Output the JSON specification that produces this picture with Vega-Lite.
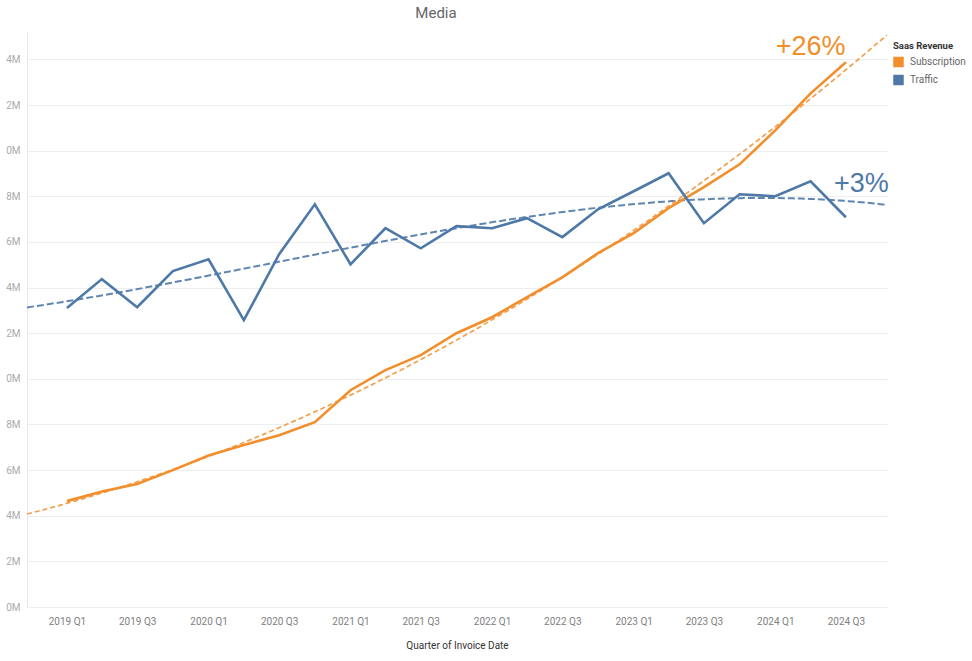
{
  "$schema": "https://vega.github.io/schema/vega-lite/v6.json",
  "width": 860,
  "height": 575,
  "autosize": {"type": "none"},
  "padding": {"left": 27, "top": 32, "right": 85, "bottom": 54},
  "background": "white",
  "config": {"view": {"stroke": null}, "font": "Roboto"},
  "title": {"text": "Media", "fontSize": 15, "font": "Roboto", "fontWeight": "normal", "color": "#666666", "anchor": "middle", "dx": -21, "offset": 11},
  "datasets": {
    "rev": [
      {"q": "2019-01-01", "series": "Subscription", "value": 4640000},
      {"q": "2019-04-01", "series": "Subscription", "value": 5060000},
      {"q": "2019-07-01", "series": "Subscription", "value": 5390000},
      {"q": "2019-10-01", "series": "Subscription", "value": 6000000},
      {"q": "2020-01-01", "series": "Subscription", "value": 6640000},
      {"q": "2020-04-01", "series": "Subscription", "value": 7100000},
      {"q": "2020-07-01", "series": "Subscription", "value": 7530000},
      {"q": "2020-10-01", "series": "Subscription", "value": 8100000},
      {"q": "2021-01-01", "series": "Subscription", "value": 9500000},
      {"q": "2021-04-01", "series": "Subscription", "value": 10380000},
      {"q": "2021-07-01", "series": "Subscription", "value": 11040000},
      {"q": "2021-10-01", "series": "Subscription", "value": 12000000},
      {"q": "2022-01-01", "series": "Subscription", "value": 12700000},
      {"q": "2022-04-01", "series": "Subscription", "value": 13580000},
      {"q": "2022-07-01", "series": "Subscription", "value": 14450000},
      {"q": "2022-10-01", "series": "Subscription", "value": 15510000},
      {"q": "2023-01-01", "series": "Subscription", "value": 16380000},
      {"q": "2023-04-01", "series": "Subscription", "value": 17480000},
      {"q": "2023-07-01", "series": "Subscription", "value": 18400000},
      {"q": "2023-10-01", "series": "Subscription", "value": 19400000},
      {"q": "2024-01-01", "series": "Subscription", "value": 20890000},
      {"q": "2024-04-01", "series": "Subscription", "value": 22510000},
      {"q": "2024-07-01", "series": "Subscription", "value": 23870000},
      {"q": "2019-01-01", "series": "Traffic", "value": 13100000},
      {"q": "2019-04-01", "series": "Traffic", "value": 14370000},
      {"q": "2019-07-01", "series": "Traffic", "value": 13140000},
      {"q": "2019-10-01", "series": "Traffic", "value": 14720000},
      {"q": "2020-01-01", "series": "Traffic", "value": 15240000},
      {"q": "2020-04-01", "series": "Traffic", "value": 12570000},
      {"q": "2020-07-01", "series": "Traffic", "value": 15460000},
      {"q": "2020-10-01", "series": "Traffic", "value": 17650000},
      {"q": "2021-01-01", "series": "Traffic", "value": 15020000},
      {"q": "2021-04-01", "series": "Traffic", "value": 16600000},
      {"q": "2021-07-01", "series": "Traffic", "value": 15720000},
      {"q": "2021-10-01", "series": "Traffic", "value": 16690000},
      {"q": "2022-01-01", "series": "Traffic", "value": 16600000},
      {"q": "2022-04-01", "series": "Traffic", "value": 17040000},
      {"q": "2022-07-01", "series": "Traffic", "value": 16210000},
      {"q": "2022-10-01", "series": "Traffic", "value": 17430000},
      {"q": "2023-01-01", "series": "Traffic", "value": 18220000},
      {"q": "2023-04-01", "series": "Traffic", "value": 19010000},
      {"q": "2023-07-01", "series": "Traffic", "value": 16820000},
      {"q": "2023-10-01", "series": "Traffic", "value": 18090000},
      {"q": "2024-01-01", "series": "Traffic", "value": 18000000},
      {"q": "2024-04-01", "series": "Traffic", "value": 18660000},
      {"q": "2024-07-01", "series": "Traffic", "value": 17080000}
    ],
    "notes": [
      {"q": "2024-04-01", "series": "Subscription", "value": 24180000, "label": "+26%"},
      {"q": "2024-08-10", "series": "Traffic", "value": 18180000, "label": "+3%"}
    ]
  },
  "encoding": {
    "x": {
      "field": "q",
      "type": "temporal",
      "title": "Quarter of Invoice Date",
      "scale": {"type": "utc", "domain": [1537401600000, 1728950400000]},
      "axis": {
        "tickCount": {"interval": "month", "step": 6},
        "labelExpr": "utcyear(datum.value) + ' Q' + utcquarter(datum.value)",
        "grid": false,
        "domain": false,
        "ticks": false,
        "labelPadding": 9,
        "labelFontSize": 10,
        "labelColor": "#808080",
        "labelFont": "Roboto",
        "titleFont": "Roboto",
        "titleFontSize": 10,
        "titleColor": "#333333",
        "titleFontWeight": "normal",
        "titlePadding": 14
      }
    },
    "y": {
      "field": "value",
      "type": "quantitative",
      "title": null,
      "scale": {"domain": [0, 25200000], "nice": false},
      "axis": {
        "values": [0, 2000000, 4000000, 6000000, 8000000, 10000000, 12000000, 14000000, 16000000, 18000000, 20000000, 22000000, 24000000],
        "labelExpr": "(round(datum.value/1000000) % 10) + 'M'",
        "grid": true,
        "gridColor": "#eeeeee",
        "domain": true,
        "domainColor": "#e8e8e8",
        "ticks": false,
        "labelPadding": 7,
        "labelFontSize": 10,
        "labelColor": "#aaaaaa",
        "labelFont": "Roboto"
      }
    },
    "color": {
      "field": "series",
      "type": "nominal",
      "scale": {"domain": ["Subscription", "Traffic"], "range": ["#F28E2B", "#4E79A7"]},
      "legend": {
        "orient": "none",
        "legendX": 866,
        "legendY": 9,
        "title": "Saas Revenue",
        "titleFont": "Roboto",
        "titleFontSize": 9.5,
        "titleFontWeight": "bold",
        "titleColor": "#333333",
        "titlePadding": 6,
        "labelFont": "Roboto",
        "labelFontSize": 10,
        "labelColor": "#666666",
        "labelOffset": 6,
        "rowPadding": 7,
        "symbolType": "square",
        "symbolSize": 110,
        "encode": {"symbols": {"update": {"fill": {"scale": "color", "field": "value"}, "strokeWidth": {"value": 0}}}}
      }
    }
  },
  "layer": [
    {
      "data": {"name": "rev", "format": {"parse": {"q": "date"}}},
      "transform": [
        {"filter": "datum.series === 'Traffic'"},
        {"regression": "value", "on": "q", "groupby": ["series"], "method": "poly", "order": 3, "extent": [1537401600000, 1728950400000]}
      ],
      "mark": {"type": "line", "strokeDash": [7, 3], "strokeWidth": 2, "opacity": 0.9, "clip": true}
    },
    {
      "data": {"name": "rev", "format": {"parse": {"q": "date"}}},
      "transform": [
        {"filter": "datum.series === 'Subscription'"},
        {"regression": "value", "on": "q", "groupby": ["series"], "method": "poly", "order": 2, "extent": [1537401600000, 1728950400000]}
      ],
      "mark": {"type": "line", "strokeDash": [5, 3], "strokeWidth": 1.7, "opacity": 0.85, "clip": true}
    },
    {
      "data": {"name": "rev", "format": {"parse": {"q": "date"}}},
      "mark": {"type": "line", "strokeWidth": 2.6}
    },
    {
      "data": {"name": "notes", "format": {"parse": {"q": "date"}}},
      "mark": {"type": "text", "font": "Liberation Sans", "fontSize": 27, "align": "center", "baseline": "alphabetic"},
      "encoding": {"text": {"field": "label"}}
    }
  ]
}
